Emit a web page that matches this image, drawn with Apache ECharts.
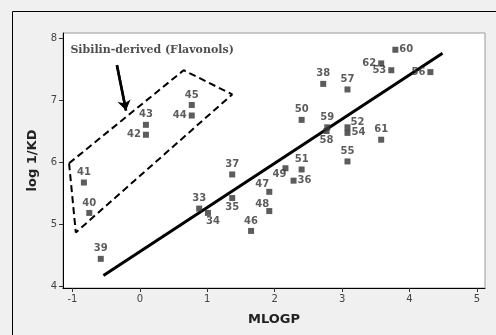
<!DOCTYPE html>
<html>
<head>
<meta charset="utf-8">
<script src="https://cdn.jsdelivr.net/npm/echarts@6/dist/echarts.min.js"></script>
<style>
  html, body { margin: 0; padding: 0; background: #f0f0f0; }
  #chart { width: 496px; height: 335px; }
</style>
</head>
<body>
<div id="chart"></div>
<script>
// compound numbers and their values
const ids = ['33','34','35','36','37','38','39','40','41','42','43','44','45','46','47','48','49','50','51','52','53','54','55','56','57','58','59','60','61','62']
const mlogp = [0.88, 1.01, 1.37, 2.28, 1.37, 2.72, -0.58, -0.75, -0.83, 0.09, 0.09, 0.77, 0.77, 1.65, 1.92, 1.92, 2.16, 2.40, 2.40, 3.08, 3.73, 3.08, 3.08, 4.31, 3.08, 2.77, 2.78, 3.79, 3.58, 3.58]
const logKD = [5.25, 5.18, 5.42, 5.70, 5.80, 7.26, 4.44, 5.18, 5.67, 6.44, 6.60, 6.75, 6.92, 4.89, 5.52, 5.21, 5.90, 6.68, 5.88, 6.56, 7.48, 6.47, 6.01, 7.45, 7.17, 6.50, 6.56, 7.81, 6.36, 7.59]
const labelPos = ['top','bottomRight','bottom','right','top','top','top','top','top','left','top','left','top','top','topLeft','topLeft','bottomLeft','top','top','topRight','left','right','top','left','top','bottom','top','right','top','left']

// fitted line end points
const fitX = [-0.54, 4.49]
const fitY = [4.17, 7.755]

// dashed outline around the flavonols
const boxX = [-1.05, 0.65, 1.37, -0.95, -1.05]
const boxY = [5.98, 7.48, 7.09, 4.865, 5.98]

// arrow and note
const arrowFrom = [-0.34, 7.56]
const arrowTo = [-0.205, 6.83]
const note = 'Sibilin-derived (Flavonols)'
const notePos = [-1.03, 7.80]

const xTicks = [-1, 0, 1, 2, 3, 4, 5]
const yTicks = [4, 5, 6, 7, 8]

const posMap = {
  top: { position: 'top', distance: 2 },
  bottom: { position: 'bottom', distance: 1 },
  left: { position: 'left', distance: 2 },
  right: { position: 'right', distance: 1 },
  topLeft: { position: 'top', distance: 1, offset: [-7, 2] },
  topRight: { position: 'top', distance: 1, offset: [10, 4] },
  bottomLeft: { position: 'bottom', distance: 0, offset: [-6, -2] },
  bottomRight: { position: 'bottom', distance: 0, offset: [5, 0] },
}

const chart = echarts.init(document.getElementById('chart'))

const points = ids.map((id, i) => ({
  value: [mlogp[i], logKD[i]],
  label: { show: true, formatter: id, ...posMap[labelPos[i]] },
}))

const option = {
  backgroundColor: '#f0f0f0',
  animation: false,
  graphic: [
    {
      type: 'rect',
      shape: { x: 12.5, y: 11.5, width: 600, height: 400 },
      style: { fill: 'none', stroke: '#000', lineWidth: 1 },
      z: -1,
    },
  ],
  grid: {
    left: 63,
    top: 33,
    right: 11,
    bottom: 47,
    show: true,
    backgroundColor: '#fff',
    borderColor: '#999',
    borderWidth: 1,
  },
  xAxis: {
    type: 'value',
    min: -1.14,
    max: 5.12,
    name: 'MLOGP',
    nameLocation: 'middle',
    nameGap: 25,
    nameTextStyle: { fontFamily: 'DejaVu Sans', fontWeight: 'bold', fontSize: 13, color: '#222' },
    axisLine: { onZero: false, lineStyle: { color: '#000', width: 1 } },
    axisTick: { show: true, length: 4, customValues: xTicks, lineStyle: { color: '#333' } },
    axisLabel: { customValues: xTicks, color: '#444', fontFamily: 'DejaVu Sans', fontSize: 10, margin: 6 },
    splitLine: { show: false },
  },
  yAxis: {
    type: 'value',
    min: 3.97,
    max: 8.08,
    name: 'log 1/KD',
    nameLocation: 'middle',
    nameGap: 24,
    nameTextStyle: { fontFamily: 'DejaVu Sans', fontWeight: 'bold', fontSize: 13, color: '#222' },
    axisLine: { show: true, onZero: false, lineStyle: { color: '#000', width: 1 } },
    axisTick: { show: true, length: 4, customValues: yTicks, lineStyle: { color: '#333' } },
    axisLabel: { customValues: yTicks, color: '#444', fontFamily: 'DejaVu Sans', fontSize: 10, margin: 6 },
    splitLine: { show: false },
  },
  series: [
    {
      // dashed outline
      type: 'line',
      data: boxX.map((x, i) => [x, boxY[i]]),
      symbol: 'none',
      lineStyle: { color: '#000', width: 2, type: [7, 4] },
      silent: true,
      z: 1,
    },
    {
      // fitted line
      type: 'line',
      data: fitX.map((x, i) => [x, fitY[i]]),
      symbol: 'none',
      lineStyle: { color: '#000', width: 3 },
      silent: true,
      z: 2,
    },
    {
      type: 'scatter',
      data: points,
      symbol: 'rect',
      symbolSize: 6,
      itemStyle: { color: '#333' },
      label: { color: '#333', fontFamily: 'DejaVu Sans', fontWeight: 'bold', fontSize: 10 },
      z: 3,
    },
    {
      // arrow pointing at the outline
      type: 'line',
      data: [arrowFrom, arrowTo],
      symbol: 'none',
      lineStyle: { color: '#000', width: 2.5 },
      silent: true,
      z: 4,
      markLine: {
        silent: true,
        animation: false,
        symbol: ['none', 'arrow'],
        symbolSize: 10,
        label: { show: false },
        lineStyle: { color: '#000', width: 2.5, type: 'solid' },
        data: [[{ coord: arrowFrom }, { coord: arrowTo }]],
      },
    },
    {
      // note text
      type: 'scatter',
      data: [notePos],
      symbolSize: 0,
      silent: true,
      label: {
        show: true,
        position: 'right',
        distance: 0,
        formatter: note,
        fontFamily: 'DejaVu Serif',
        fontWeight: 'bold',
        fontSize: 11,
        color: '#222',
      },
    },
  ],
}

chart.setOption(option)
</script>
</body>
</html>
